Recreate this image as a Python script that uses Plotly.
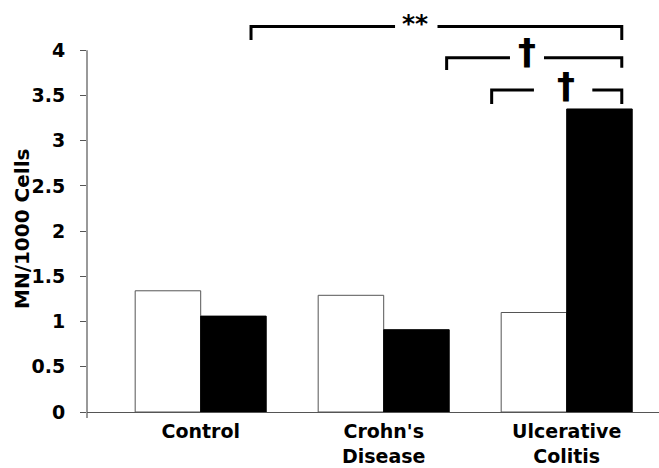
import plotly.graph_objects as go

# ---- data ----
categories = ["Control", "Crohn's<br>Disease", "Ulcerative<br>Colitis"]
series_white = [1.34, 1.29, 1.10]
series_black = [1.06, 0.91, 3.35]
y_tick_vals = [0, 0.5, 1, 1.5, 2, 2.5, 3, 3.5, 4]
y_tick_text = ["0", "0.5", "1", "1.5", "2", "2.5", "3", "3.5", "4"]
y_title = "MN/1000 Cells"

# significance brackets: (x_left, x_right, y_line, y_left_end, y_right_end, gap_left, gap_right, label, label_x, label_y, label_size)
brackets = [
    (0.275, 2.301, 4.262, 4.113, 4.113, 1.062, 1.294, "**", 1.171, 4.30, 25),
    (1.344, 2.301, 3.917, 3.780, 3.807, 1.690, 1.876, "\u2020", 1.785, 3.98, 36),
    (1.590, 2.301, 3.560, 3.405, 3.405, 1.821, 2.140, "\u2020", 1.995, 3.61, 36),
]

FONT = "DejaVu Sans"

W, H = 659, 468
ML, MR, MT, MB = 87, 0, 14, 56
PH = H - MT - MB  # 398

fig = go.Figure()
fig.add_trace(go.Bar(x=categories, y=series_white, marker=dict(color="white", line=dict(color="#555555", width=1)),
                     showlegend=False, hoverinfo="skip"))
fig.add_trace(go.Bar(x=categories, y=series_black, marker=dict(color="black", line=dict(color="black", width=1)),
                     showlegend=False, hoverinfo="skip"))

shapes = []
annotations = []
for (xl, xr, yl, yle, yre, gl, gr, lab, lx, ly, ls) in brackets:
    shapes.append(dict(type="path", xref="x", yref="y",
                       path=f"M {xl},{yle} L {xl},{yl} L {gl},{yl}",
                       line=dict(color="black", width=3)))
    shapes.append(dict(type="path", xref="x", yref="y",
                       path=f"M {gr},{yl} L {xr},{yl} L {xr},{yre}",
                       line=dict(color="black", width=3)))
    annotations.append(dict(x=lx, y=ly, xref="x", yref="y", text=f"<b>{lab}</b>", showarrow=False,
                            font=dict(family=FONT, size=ls, color="black"), xanchor="center", yanchor="middle"))

# y-axis line (ends at 4, slightly below 0)
shapes.append(dict(type="line", xref="paper", yref="paper", x0=0, x1=0, y0=-6 / PH, y1=4 / 4.4,
                   line=dict(color="#555555", width=1.2)))

annotations.append(dict(x=(22 - ML) / (W - ML - MR), y=(412 - 229) / PH, xref="paper", yref="paper",
                        text=f"<b>{y_title}</b>", showarrow=False, textangle=-90,
                        font=dict(family=FONT, size=20, color="black"),
                        xanchor="center", yanchor="middle"))

fig.update_layout(
    width=W, height=H,
    margin=dict(l=ML, r=MR, t=MT, b=MB, autoexpand=False),
    plot_bgcolor="white", paper_bgcolor="white",
    barmode="group", bargap=0.284, bargroupgap=0,
    shapes=shapes,
    annotations=annotations,
    xaxis=dict(range=[-0.6213, 2.5044], showline=True, linecolor="#555555", linewidth=1.2,
               showgrid=False, zeroline=False, ticks="", ticklabelstandoff=2, automargin=False,
               tickfont=dict(family=FONT, size=19, color="black", weight="bold")),
    yaxis=dict(range=[0, 4.4], tickvals=y_tick_vals, ticktext=y_tick_text, showline=False,
               showgrid=False, zeroline=False, ticks="outside", ticklen=6, tickcolor="#555555", tickwidth=1.2,
               ticklabelstandoff=11, automargin=False,
               tickfont=dict(family=FONT, size=19, color="black", weight="bold")),
)

fig.write_html("out.html", config={"displayModeBar": False},
               post_script="document.body.style.margin='0';document.body.style.overflow='hidden';")
